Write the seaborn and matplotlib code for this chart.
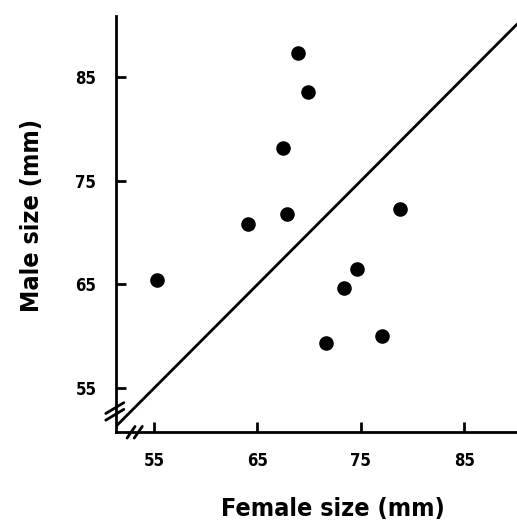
import matplotlib
matplotlib.use("Agg")
import matplotlib.pyplot as plt
import seaborn as sns
import pandas as pd

# Tamaños medidos en la figura (mm)
female_size = [55.3, 64.1, 67.5, 67.9, 68.9, 69.9, 71.6, 73.4, 74.6, 77.0, 78.8]
male_size = [65.4, 70.8, 78.2, 71.8, 87.3, 83.6, 59.4, 64.7, 66.5, 60.0, 72.3]
tick_values = [55, 65, 75, 85]

df = pd.DataFrame({"female": female_size, "male": male_size})

sns.set_style("white")
plt.rcParams["font.family"] = ["DejaVu Sans"]
plt.rcParams["font.stretch"] = "condensed"
plt.rcParams["font.weight"] = "bold"
plt.rcParams["text.color"] = "black"
plt.rcParams["axes.labelcolor"] = "black"
plt.rcParams["xtick.color"] = "black"
plt.rcParams["ytick.color"] = "black"

fig = plt.figure(figsize=(5.17, 5.31), dpi=100)
ax = fig.add_axes([0.224, 0.186, 0.776, 0.784])

sns.scatterplot(data=df, x="female", y="male", ax=ax, color="black",
                s=110, edgecolor="black", linewidth=0, zorder=3)
ax.axline((55, 55), slope=1, color="black", lw=2)

ax.set_xlim(51.3, 90.1)
ax.set_ylim(50.75, 90.9)
ax.set_xticks(tick_values)
ax.set_yticks(tick_values)
ax.tick_params(bottom=True, left=True, direction="in", length=7, width=2,
               labelsize=12, color="black", labelcolor="black")
ax.tick_params(axis="y", pad=14)
ax.tick_params(axis="x", pad=14)

for s in ["top", "right"]:
    ax.spines[s].set_visible(False)
for s in ["left", "bottom"]:
    ax.spines[s].set_linewidth(2)
    ax.spines[s].set_color("black")

ax.set_xlabel("Female size (mm)", fontsize=18, fontweight="bold")
ax.set_ylabel("Male size (mm)", fontsize=18, fontweight="bold")
ax.xaxis.set_label_coords(0.54, -0.155)
ax.yaxis.set_label_coords(-0.18, 0.52)

# marcas de corte del eje
brk = dict(color="black", lw=2, clip_on=False, transform=ax.transAxes)
for dy in (0.058, 0.042):
    ax.plot([-0.025, 0.02], [dy - 0.013, dy + 0.013], **brk)
for dx in (0.038, 0.056):
    ax.plot([dx - 0.01, dx + 0.01], [-0.014, 0.014], **brk)

fig.savefig("out.png", dpi=100)
